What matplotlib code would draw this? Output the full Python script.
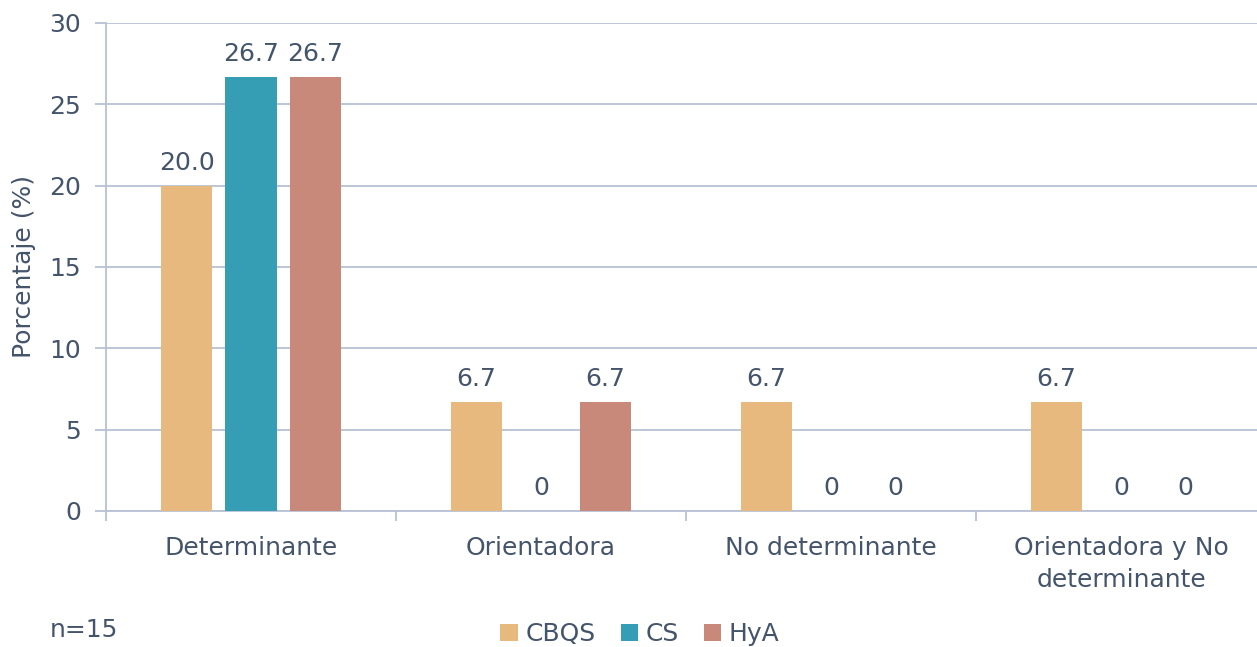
import matplotlib
matplotlib.use("Agg")
import matplotlib.pyplot as plt
import numpy as np

categories = ["Determinante", "Orientadora", "No determinante", "Orientadora y No\ndeterminante"]
series_names = ["CBQS", "CS", "HyA"]
cbqs = [20.0, 6.7, 6.7, 6.7]
cs = [26.7, 0, 0, 0]
hya = [26.7, 6.7, 0, 0]
values = [cbqs, cs, hya]
colors = ["#E8B97E", "#359EB5", "#C9897A"]
yticks = [0, 5, 10, 15, 20, 25, 30]

text_color = "#44546A"
grid_color = "#B8C2D4"
fs = 18

plt.rcParams['font.family'] = ['DejaVu Sans']

fig = plt.figure(figsize=(12.57, 6.47), dpi=100)
ax = fig.add_axes([106/1257, 1-511/647, 1160/1257, (511-23)/647])

x = np.arange(len(categories))
width = 0.176
offset = 0.222
for i, (name, vals, col) in enumerate(zip(series_names, values, colors)):
    pos = x + (i - 1) * offset
    ax.bar(pos, vals, width=width, color=col, label=name, zorder=3)
    for p, v in zip(pos, vals):
        lab = "0" if v == 0 else f"{v:.1f}"
        ax.annotate(lab, (p, v), xytext=(0, 8), textcoords="offset points",
                    ha="center", va="bottom", fontsize=fs, color=text_color)

ax.set_xlim(-0.5, len(categories) - 0.5)
ax.set_ylim(0, 30)
ax.set_yticks(yticks)
ax.yaxis.grid(True, color=grid_color, linewidth=1.3, zorder=0)
ax.set_axisbelow(True)

ax.set_xticks(x)
ax.set_xticklabels(categories, fontsize=fs, color=text_color, linespacing=1.4)
ax.set_xticks(np.arange(len(categories) + 1) - 0.5, minor=True)
ax.tick_params(axis="x", which="major", length=0, pad=18)
ax.tick_params(axis="x", which="minor", length=7, width=1.3, color=grid_color, direction="out")
ax.tick_params(axis="y", length=8, width=1.3, color=grid_color, labelsize=fs,
               labelcolor=text_color, pad=10)

for s in ["top", "right"]:
    ax.spines[s].set_visible(False)
for s in ["left", "bottom"]:
    ax.spines[s].set_color(grid_color)
    ax.spines[s].set_linewidth(1.3)

ax.set_ylabel("Porcentaje (%)", fontsize=fs, color=text_color, labelpad=9.5)

fig.text(50/1257, 1-630/647, "n=15", fontsize=fs, color=text_color, va="center", ha="left")

leg = fig.legend(loc="center", bbox_to_anchor=(640/1257, 1-634/647), ncol=3, frameon=False,
                 fontsize=fs, handlelength=0.7, handleheight=0.7, handletextpad=0.3,
                 columnspacing=1.0)
for t in leg.get_texts():
    t.set_color(text_color)

fig.savefig("out.png", dpi=100)
